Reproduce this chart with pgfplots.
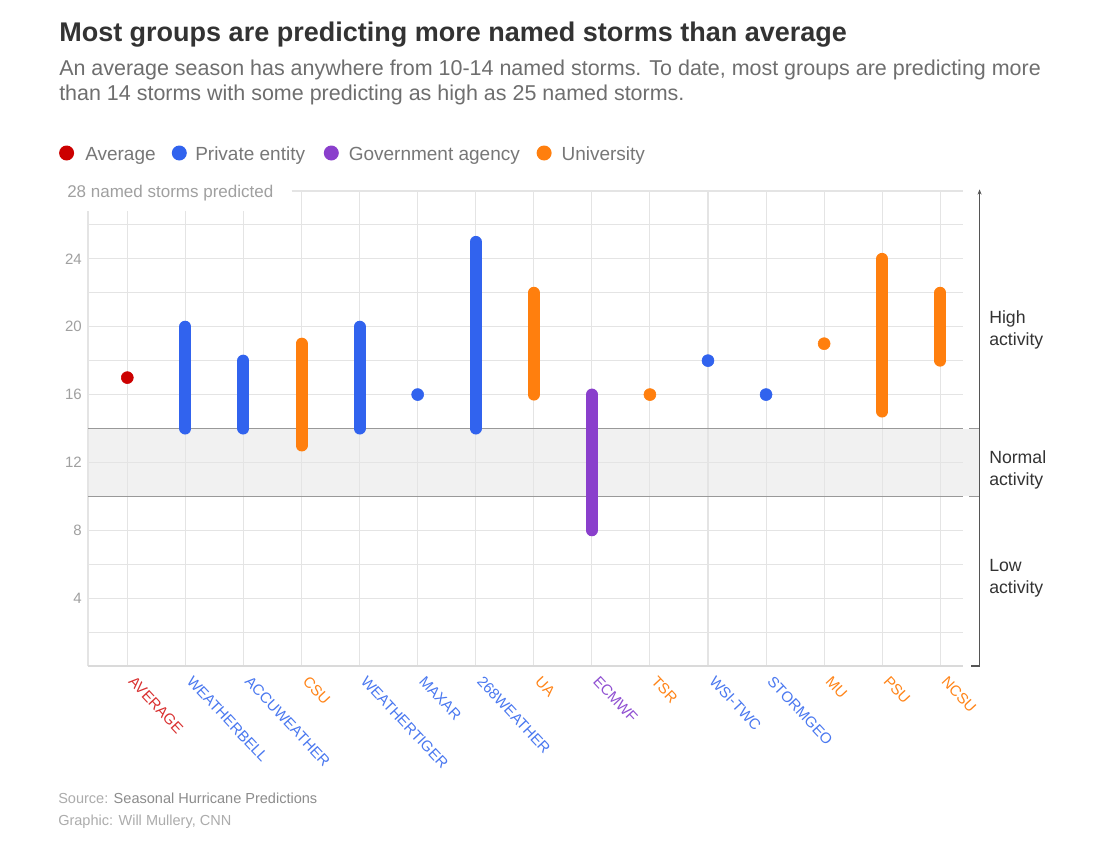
\documentclass[border=0pt]{standalone}
\usepackage{fontspec}
\setmainfont{Liberation Sans}
\usepackage{pgfplots}
\pgfplotsset{compat=1.18}
\usetikzlibrary{arrows.meta}
\definecolor{cred}{HTML}{CC0000}
\definecolor{cblue}{HTML}{3163EE}
\definecolor{cpurple}{HTML}{8A3FCC}
\definecolor{corange}{HTML}{FF7F0E}
\definecolor{lred}{HTML}{D93030}
\definecolor{lblue}{HTML}{4A78F0}
\definecolor{lpurple}{HTML}{9050D2}
\definecolor{lorange}{HTML}{FF8418}
\definecolor{gridc}{HTML}{E4E4E4}
\definecolor{basec}{HTML}{DADADA}
\definecolor{bandc}{HTML}{F1F1F1}
\definecolor{bandline}{HTML}{999999}
\definecolor{titlec}{HTML}{333333}
\definecolor{subc}{HTML}{6E6E6E}
\definecolor{legc}{HTML}{777777}
\definecolor{tickc}{HTML}{A0A0A0}
\definecolor{notec}{HTML}{333333}
\definecolor{arrc}{HTML}{555555}
\definecolor{srcl}{HTML}{ACACAC}
\definecolor{srcd}{HTML}{8C8C8C}
\begin{document}
\begin{tikzpicture}
\begin{scope}[x=0.75pt,y=-0.75pt]
\path[fill=white] (0,0) rectangle (1110,856);
\node[anchor=base west, inner sep=0pt, text=titlec, font=\fontsize{20.25pt}{24pt}\selectfont\bfseries] at (59,42) {Most groups are predicting more named storms than average};
\node[anchor=base west, inner sep=0pt, text=subc, font=\fontsize{16.1pt}{19pt}\selectfont] at (59,76) {An average season has anywhere from 10-14 named storms. To date, most groups are predicting more};
\node[anchor=base west, inner sep=0pt, text=subc, font=\fontsize{16.1pt}{19pt}\selectfont] at (59,101) {than 14 storms with some predicting as high as 25 named storms.};
% legend
\fill[cred] (66.6,153) circle (7.5);
\node[anchor=base west, inner sep=0pt, text=legc, font=\fontsize{14.25pt}{17pt}\selectfont] at (85,160) {Average};
\fill[cblue] (179.3,153) circle (7.5);
\node[anchor=base west, inner sep=0pt, text=legc, font=\fontsize{14.25pt}{17pt}\selectfont] at (195,160) {Private entity};
\fill[cpurple] (331.3,153) circle (7.5);
\node[anchor=base west, inner sep=0pt, text=legc, font=\fontsize{14.25pt}{17pt}\selectfont] at (348.5,160) {Government agency};
\fill[corange] (544.1,153) circle (7.5);
\node[anchor=base west, inner sep=0pt, text=legc, font=\fontsize{14.25pt}{17pt}\selectfont] at (561.3,160) {University};
% top label
\node[anchor=base west, inner sep=0pt, text=tickc, font=\fontsize{12.75pt}{15pt}\selectfont] at (67,197) {28 named storms predicted};
% right notes
\node[anchor=base west, inner sep=0pt, text=notec, font=\fontsize{13.25pt}{16pt}\selectfont] at (989,323) {High};
\node[anchor=base west, inner sep=0pt, text=notec, font=\fontsize{13.25pt}{16pt}\selectfont] at (989,345) {activity};
\node[anchor=base west, inner sep=0pt, text=notec, font=\fontsize{13.25pt}{16pt}\selectfont] at (989,463) {Normal};
\node[anchor=base west, inner sep=0pt, text=notec, font=\fontsize{13.25pt}{16pt}\selectfont] at (989,485) {activity};
\node[anchor=base west, inner sep=0pt, text=notec, font=\fontsize{13.25pt}{16pt}\selectfont] at (989,571) {Low};
\node[anchor=base west, inner sep=0pt, text=notec, font=\fontsize{13.25pt}{16pt}\selectfont] at (989,593) {activity};
% source
\node[anchor=base west, inner sep=0pt, font=\fontsize{10.9pt}{13pt}\selectfont] at (58,803) {\textcolor{srcl}{Source:} \textcolor{srcd}{Seasonal Hurricane Predictions}};
\node[anchor=base west, inner sep=0pt, text=srcl, font=\fontsize{10.9pt}{13pt}\selectfont] at (58,825) {Graphic: Will Mullery, CNN};
\end{scope}
\begin{axis}[
  at={(66pt,-499.5pt)}, anchor=south west,
  scale only axis, width=656pt, height=356.25pt,
  xmin=-0.677, xmax=14.386, ymin=0, ymax=28,
  clip=false,
  axis line style={draw=none},
  tick style={draw=none},
  xtick={0,...,14},
  xticklabels={\textcolor{lred}{AVERAGE},\textcolor{lblue}{WEATHERBELL},\textcolor{lblue}{ACCUWEATHER},\textcolor{lorange}{CSU},\textcolor{lblue}{WEATHERTIGER},\textcolor{lblue}{MAXAR},\textcolor{lblue}{268WEATHER},\textcolor{lorange}{UA},\textcolor{lpurple}{ECMWF},\textcolor{lorange}{TSR},\textcolor{lblue}{WSI-TWC},\textcolor{lblue}{STORMGEO},\textcolor{lorange}{MU},\textcolor{lorange}{PSU},\textcolor{lorange}{NCSU}},
  x tick label style={xshift=6.2pt, rotate=-47, anchor=north west, inner sep=0pt, font=\fontsize{11.25pt}{13pt}\selectfont},
  xticklabel shift=6.5pt,
  ytick={4,8,...,24},
  y tick label style={text=tickc, font=\fontsize{11.25pt}{13pt}\selectfont, inner sep=0pt, xshift=-4.5pt},
  /pgf/number format/assume math mode=true,
]
\fill[bandc] (axis cs:-0.677,10) rectangle (axis cs:14.677,14);
\pgfplotsinvokeforeach{2,4,...,26}{\draw[gridc, line width=0.8pt] (axis cs:-0.677,#1) -- (axis cs:14.386,#1);}
\draw[gridc, line width=0.8pt] (axis cs:2.83,28) -- (axis cs:14.386,28);
\pgfplotsinvokeforeach{0,1,2}{\draw[gridc, line width=0.8pt] (axis cs:#1,0) -- (axis cs:#1,26.8);}
\pgfplotsinvokeforeach{3,...,14}{\draw[gridc, line width=0.8pt] (axis cs:#1,0) -- (axis cs:#1,28);}
\draw[gridc, line width=0.8pt] (axis cs:-0.677,0) -- (axis cs:-0.677,26.8);
\draw[basec, line width=1.3pt] (axis cs:-0.677,0) -- (axis cs:14.386,0);
\draw[bandline, line width=1.1pt] (axis cs:-0.677,10) -- (axis cs:14.386,10);
\draw[bandline, line width=1.1pt] (axis cs:-0.677,14) -- (axis cs:14.386,14);
\draw[bandline, line width=1.1pt] (axis cs:14.5,10) -- (axis cs:14.677,10);
\draw[bandline, line width=1.1pt] (axis cs:14.5,14) -- (axis cs:14.677,14);
\draw[arrc, line width=0.8pt, -{Stealth[length=4pt,width=3pt]}] (axis cs:14.677,0) -- (axis cs:14.677,28.1);
\draw[arrc, line width=0.8pt] (axis cs:14.677,0) -- (axis cs:14.53,0);
% ranges
\addplot[cblue, line width=9pt, line cap=round, unbounded coords=jump] coordinates {(1,14) (1,20) (2,nan) (2,14) (2,18) (4,nan) (4,14) (4,20) (6,nan) (6,14) (6,25)};
\addplot[corange, line width=9pt, line cap=round, unbounded coords=jump] coordinates {(3,13) (3,19) (7,nan) (7,16) (7,22) (13,nan) (13,15) (13,24) (14,nan) (14,18) (14,22)};
\addplot[cpurple, line width=9pt, line cap=round] coordinates {(8,8) (8,16)};
% single values
\addplot[cred, only marks, mark=*, mark size=4.5pt, mark options={draw=none, fill=cred}] coordinates {(0,17)};
\addplot[cblue, only marks, mark=*, mark size=4.5pt, mark options={draw=none, fill=cblue}] coordinates {(5,16) (10,18) (11,16)};
\addplot[corange, only marks, mark=*, mark size=4.5pt, mark options={draw=none, fill=corange}] coordinates {(9,16) (12,19)};
\end{axis}
\end{tikzpicture}
\end{document}
